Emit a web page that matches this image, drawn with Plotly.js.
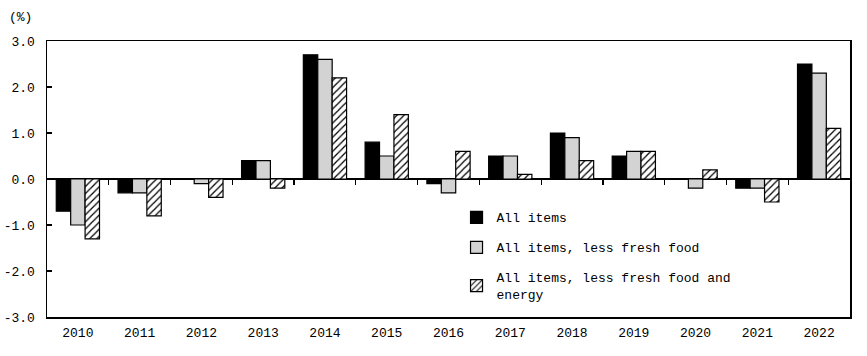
<!DOCTYPE html>
<html><head><meta charset="utf-8">
<script src="https://cdn.plot.ly/plotly-3.0.1.min.js"></script>
<style>html,body{margin:0;padding:0;background:#fff}</style>
</head><body><div id="chart" style="width:867px;height:356px"></div>
<script>
const years = ["2010","2011","2012","2013","2014","2015","2016","2017","2018","2019","2020","2021","2022"];
const allItems = [-0.7,-0.3,0.0,0.4,2.7,0.8,-0.1,0.5,1.0,0.5,0.0,-0.2,2.5];
const lessFresh = [-1.0,-0.3,-0.1,0.4,2.6,0.5,-0.3,0.5,0.9,0.6,-0.2,-0.2,2.3];
const lessFreshEnergy = [-1.3,-0.8,-0.4,-0.2,2.2,1.4,0.6,0.1,0.4,0.6,0.2,-0.5,1.1];
const seriesNames = ["All items","All items, less fresh food","All items, less fresh food and<br>energy"];
const yTickVals = [3,2,1,0,-1,-2,-3];
const yTickText = ["3.0","2.0","1.0","0.0","-1.0","-2.0","-3.0"];

const idx = years.map((_, i) => i);
const font = {family: "Liberation Mono, DejaVu Sans Mono, monospace", size: 13, color: "#000"};

const traces = [
  {type: "bar", x: idx, y: allItems, name: seriesNames[0], legendgroup: "a",
   marker: {color: "#000", line: {color: "#000", width: 1.2}}},
  {type: "bar", x: idx, y: lessFresh, name: seriesNames[1], legendgroup: "b",
   marker: {color: "#e0e0e0", line: {color: "#000", width: 1.2},
            pattern: {shape: ".", fgcolor: "#c4c4c4", bgcolor: "#e0e0e0", size: 2, solidity: 0.5}}},
  {type: "bar", x: idx, y: lessFreshEnergy, name: seriesNames[2], legendgroup: "c",
   marker: {color: "#fff", line: {color: "#000", width: 1.2},
            pattern: {shape: "/", fgcolor: "#000", bgcolor: "#fff", size: 5, solidity: 0.25}}},
  {type: "scatter", x: [], y: [], xaxis: "x2", showlegend: false, hoverinfo: "skip"}
];

const layout = {
  width: 867, height: 356,
  margin: {l: 47, r: 17, t: 41, b: 39},
  paper_bgcolor: "#fff", plot_bgcolor: "#fff",
  font: font,
  barmode: "group", bargap: 0.3, bargroupgap: 0,
  showlegend: true,
  legend: {x: 0.51, y: 0.415, xanchor: "left", yanchor: "top", bgcolor: "rgba(0,0,0,0)",
           font: font, tracegroupgap: 10, traceorder: "grouped"},
  xaxis: {range: [-0.5, 12.5], tickvals: idx, ticktext: years, ticks: "",
          showline: true, mirror: true, linecolor: "#000", linewidth: 1.5,
          showgrid: false, zeroline: false, tickfont: font, fixedrange: true, ticklabelstandoff: 3},
  xaxis2: {overlaying: "x", anchor: "free", position: 0.5, side: "bottom",
           range: [-0.5, 12.5], tickvals: [0.5,1.5,2.5,3.5,4.5,5.5,6.5,7.5,8.5,9.5,10.5,11.5],
           ticks: "outside", ticklen: 5, tickwidth: 1.2, tickcolor: "#000",
           showticklabels: false, showline: false, showgrid: false, zeroline: false},
  yaxis: {range: [-3, 3], tickvals: yTickVals, ticktext: yTickText,
          ticks: "inside", ticklen: 5, tickwidth: 1.2, tickcolor: "#000",
          showline: true, mirror: true, linecolor: "#000", linewidth: 1.5,
          showgrid: false, zeroline: true, zerolinecolor: "#000", zerolinewidth: 1.5,
          tickfont: font, ticklabelstandoff: 8},
  annotations: [{text: "(%)", xref: "paper", yref: "paper", x: -0.05, y: 1.0, yshift: 24,
                 xanchor: "left", yanchor: "middle", showarrow: false, font: font}]
};

Plotly.newPlot("chart", traces, layout, {staticPlot: true});
</script></body></html>
